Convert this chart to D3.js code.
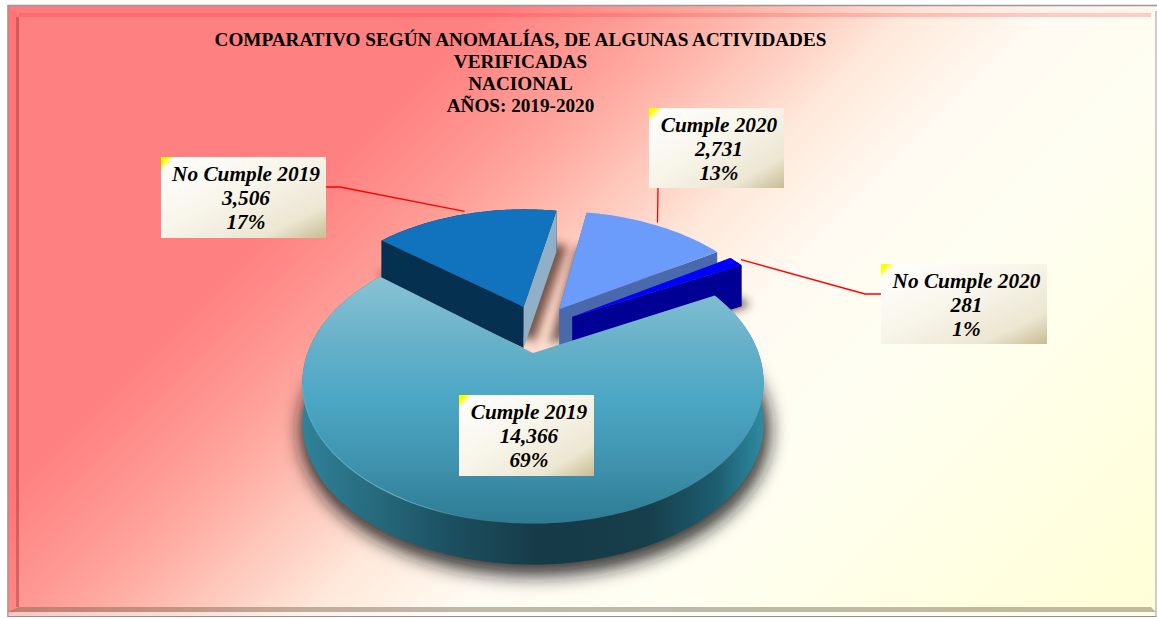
<!DOCTYPE html>
<html><head><meta charset="utf-8">
<script src="https://cdn.jsdelivr.net/npm/d3@7/dist/d3.min.js"></script>
<style>html,body{margin:0;padding:0;background:#fff;overflow:hidden}svg{display:block}</style>
</head><body>
<svg id="c" width="1157" height="619"></svg>
<script>
const titleLines = ["COMPARATIVO SEGÚN ANOMALÍAS, DE ALGUNAS ACTIVIDADES","VERIFICADAS","NACIONAL","AÑOS: 2019-2020"];
const categories = ["Cumple 2019","No Cumple 2019","Cumple 2020","No Cumple 2020"];
const values = [14366,3506,2731,281];

// layout (not data)
const W=1157,H=619;
const frame={x:8,y:5,x2:1156,y2:617,b:11};
const cx=533,cy=353,a=225.5,b=135,k=0.2087,explode=0.19,thick=41;
const startDeg=62.2;
const boxes=[
 {x:459,y:395,w:135,h:81},
 {x:161,y:157,w:165,h:81,elbow:{side:"right",run:14,yOff:30}},
 {x:649,y:108,w:135,h:80,elbow:{side:"bottom",xOff:9}},
 {x:881,y:264,w:166,h:80,elbow:{side:"left",run:16,yOff:30}}
];
const topCols=["#7dbcd1","#1172bd","#6c9cfb","#0000ff"];

const svg=d3.select("#c");
const defs=svg.append("defs");
function lg(id,x1,y1,x2,y2,stops,user=true){
  const g=defs.append("linearGradient").attr("id",id)
   .attr("x1",x1).attr("y1",y1).attr("x2",x2).attr("y2",y2);
  if(user)g.attr("gradientUnits","userSpaceOnUse");
  stops.forEach(s=>g.append("stop").attr("offset",s[0]).attr("stop-color",s[1]).attr("stop-opacity",s[2]===undefined?1:s[2]));
}
lg("bg",0,0,885,885,[[0,"#ff8080"],[0.28,"#ff8080"],[0.36,"#ff9a94"],[0.42,"#ffb5aa"],[0.52,"#ffe8da"],[0.60,"#fffaf2"],[0.70,"#fffef2"],[1,"#ffffd6"]]);
lg("bigTop",0,270,0,530,[[0,"#8cc5d6"],[0.27,"#68b1c9"],[0.5,"#4ba7c5"],[0.75,"#3f92ad"],[1,"#2c7891"]]);
lg("bigSide",303,0,763,0,[[0,"#2f8299"],[0.12,"#296f84"],[0.32,"#1c5060"],[0.52,"#163a47"],[0.75,"#173e4b"],[0.9,"#1d5e70"],[1,"#2f8aa0"]]);
lg("rim",303,0,500,0,[[0,"#58b4d0"],[0.5,"#74c2d6"],[1,"#5aa6bd",0]]);
lg("box",0,0,1,1,[[0,"#ffffff"],[0.45,"#f8f5ea"],[0.8,"#ece6d2"],[1,"#c8bc95"]],false);
lg("corner",0,0,0.55,0.55,[[0,"#ffff00"],[0.45,"#ffff00"],[1,"#ffff90",0]],false);
function blur(id,sd){defs.append("filter").attr("id",id).attr("x","-30%").attr("y","-30%").attr("width","160%").attr("height","160%")
  .append("feGaussianBlur").attr("stdDeviation",sd);}
blur("blur",9);blur("blurS",5);blur("blur2",0.5);

// background + bevel
const fw=frame.x2-frame.x, fh=frame.y2-frame.y;
svg.append("rect").attr("x",frame.x).attr("y",frame.y).attr("width",fw).attr("height",fh).attr("fill","url(#bg)");
const bv=svg.append("g");
const i={x:frame.x+frame.b,y:frame.y+frame.b+1,x2:frame.x2-5,y2:frame.y2-10};
const poly=(p,f)=>bv.append("polygon").attr("points",p.map(d=>d.join(",")).join(" ")).attr("fill",f);
poly([[frame.x,frame.y],[i.x2+5,frame.y],[i.x2,i.y],[i.x,i.y]],"rgba(255,40,40,0.03)");
bv.append("rect").attr("x",i.x).attr("y",i.y-4).attr("width",i.x2-i.x).attr("height",4).attr("fill","rgba(255,40,40,0.2)");
poly([[frame.x,frame.y],[i.x,i.y],[i.x,i.y2],[frame.x,frame.y2]],"rgba(255,40,40,0.14)");
bv.append("rect").attr("x",i.x-3).attr("y",i.y).attr("width",3).attr("height",i.y2-i.y).attr("fill","rgba(120,30,30,0.30)");
poly([[i.x,i.y2],[i.x2,i.y2],[frame.x2,frame.y2-5],[frame.x,frame.y2-5]],"rgba(110,90,70,0.42)");
bv.append("rect").attr("x",frame.x).attr("y",frame.y2-5).attr("width",fw).attr("height",5).attr("fill","rgba(255,255,255,0.45)");
svg.append("line").attr("x1",frame.x).attr("x2",W).attr("y1",frame.y+0.5).attr("y2",frame.y+0.5).attr("stroke","#999").attr("stroke-width",1.5);
svg.append("line").attr("x1",frame.x-0.2).attr("x2",frame.x-0.2).attr("y1",frame.y).attr("y2",frame.y2).attr("stroke","#8a9a9a").attr("stroke-width",1.2);
svg.append("line").attr("x1",frame.x2).attr("x2",frame.x2).attr("y1",frame.y+6).attr("y2",frame.y2).attr("stroke","#a09a90").attr("stroke-width",1);
svg.append("line").attr("x1",frame.x).attr("x2",frame.x2).attr("y1",frame.y2-0.5).attr("y2",frame.y2-0.5).attr("stroke","#8f8f8f").attr("stroke-width",1);

// title
const tg=svg.append("g").attr("font-family","'Liberation Serif',serif").attr("font-weight","bold").attr("font-size",19.2).attr("text-anchor","middle").attr("fill","#000");
titleLines.forEach((t,j)=>tg.append("text").attr("x",520.5).attr("y",45.5+j*22).text(t));

// perspective pie
const xS=d3.scaleLinear().domain([-1,1]).range([cx-a,cx+a]);
const yS=d3.scaleLinear().domain([-1,1]).range([cy-b,cy+b]);
const proj=(u,v)=>{const s=1/(1-k*v);return [xS(u*s),yS(v*s)];};
const start=startDeg*Math.PI/180;
const arcs=d3.pie().sort(null).startAngle(start).endAngle(start+2*Math.PI)(values);
const line=d3.line();
const dir=t=>[Math.sin(t),-Math.cos(t)];
const big=arcs[0];
const bigDir=dir((big.startAngle+big.endAngle)/2);
const center=[-explode*bigDir[0],-explode*bigDir[1]];
arcs.forEach(d=>{
  const m=dir((d.startAngle+d.endAngle)/2);
  d.c=[center[0]+explode*m[0],center[1]+explode*m[1]];
  d.pt=t=>{const q=dir(t);return proj(d.c[0]+q[0],d.c[1]+q[1]);};
  const n=Math.max(6,Math.round((d.endAngle-d.startAngle)*60));
  d.arcPts=d3.range(n+1).map(j=>d.pt(d.startAngle+(d.endAngle-d.startAngle)*j/n));
  d.apex=proj(d.c[0],d.c[1]);
  d.mid=d.pt((d.startAngle+d.endAngle)/2);
});
const down=p=>[p[0],p[1]+thick];
const closed=pts=>line(pts)+"Z";
const sector=d=>[d.apex,...d.arcPts];
const band=d=>[...d.arcPts,...d.arcPts.map(down).reverse()];

// shadows: large soft one below the big slice, tighter ones under the wedges
const sh=svg.append("g").attr("filter","url(#blur)").attr("fill","#141414").attr("stroke","#141414").attr("stroke-width",9);
sh.append("path").attr("transform","translate(2,7)").attr("d",closed(sector(big).map(down))).attr("opacity",0.85);
const sw=svg.append("g").attr("filter","url(#blurS)").attr("fill","#4a2c24");
const wedgeShadow=(d,dx,dy,op)=>sw.append("path").attr("transform",`translate(${dx},${dy})`)
    .attr("d",closed(sector(d).map(p=>[p[0],p[1]+thick*0.8]))).attr("opacity",op);
wedgeShadow(arcs[1],11,2,0.75);
wedgeShadow(arcs[1],-5,2,0.6);
wedgeShadow(arcs[2],-10,2,0.75);
wedgeShadow(arcs[3],9,7,0.85);

const pg=svg.append("g");
const face=(pts,fill)=>pg.append("path").attr("d",closed(pts)).attr("fill",fill);
const quad=(p,q)=>[p,q,down(q),down(p)];

// No Cumple 2019
const s1=arcs[1], first=s1.arcPts[0], last=s1.arcPts[s1.arcPts.length-1];
face(band(s1),"#06304f");
face(quad(s1.apex,first),"#06304f");
face(quad(s1.apex,last),"#8fb0c6");
face(sector(s1),topCols[1]);
// No Cumple 2020
const s3=arcs[3];
face(band(s3),"#000094");
face(quad(s3.apex,s3.arcPts[s3.arcPts.length-1]),"#000094");
face(sector(s3),topCols[3]);
// Cumple 2020
const s2=arcs[2];
face(quad(s2.apex,s2.arcPts[s2.arcPts.length-1]),"#4a69ad");
face(quad(s2.apex,s2.arcPts[0]),"#4a69ad");
face(sector(s2),topCols[2]);
// small slice front stays over the light slice side
face(quad(s3.apex,s3.arcPts[s3.arcPts.length-1]),"#000094");
face(sector(s3),topCols[3]);
// Cumple 2019
face(band(big),"url(#bigSide)");
face(sector(big),"url(#bigTop)");
const rimPts=big.arcPts.filter(p=>p[1]>big.apex[1]+30);
pg.append("path").attr("d",line(rimPts)).attr("fill","none").attr("stroke","url(#rim)").attr("stroke-width",1.1).attr("opacity",0.8).attr("filter","url(#blur2)");

// leader lines
const lines=svg.append("g").attr("fill","none").attr("stroke","#f00").attr("stroke-width",1.3);
arcs.forEach((d,j)=>{
  const e=boxes[j].elbow; if(!e)return;
  const B=boxes[j];let pts;
  if(e.side==="right") pts=[[B.x+B.w,B.y+e.yOff],[B.x+B.w+e.run,B.y+e.yOff],[d.mid[0],d.mid[1]-3]];
  if(e.side==="left") pts=[[B.x,B.y+e.yOff],[B.x-e.run,B.y+e.yOff],[d.mid[0]+5,d.mid[1]-2]];
  if(e.side==="bottom") pts=[[B.x+e.xOff,B.y+B.h],[d.mid[0]+1,d.mid[1]-3]];
  lines.append("path").attr("d",line(pts));
});

// labels
const fmt=d3.format(",");
const total=d3.sum(values);
const pct=d3.format(".0%");
arcs.forEach((d,j)=>{
  const B=boxes[j];
  const g=svg.append("g").attr("transform",`translate(${B.x},${B.y})`);
  g.append("rect").attr("width",B.w).attr("height",B.h).attr("fill","url(#box)");
  g.append("polygon").attr("points","0,0 15,0 0,15").attr("fill","url(#corner)");
  const t=g.append("g").attr("font-family","'Liberation Serif',serif").attr("font-weight","bold").attr("font-style","italic")
    .attr("font-size",21.3).attr("text-anchor","middle").attr("fill","#000");
  [categories[j],fmt(d.data),pct(d.data/total)].forEach((s,l)=>{
    t.append("text").attr("x",B.w/2+2.5).attr("y",24+l*24.1).text(s);
  });
});
</script>
</body></html>
